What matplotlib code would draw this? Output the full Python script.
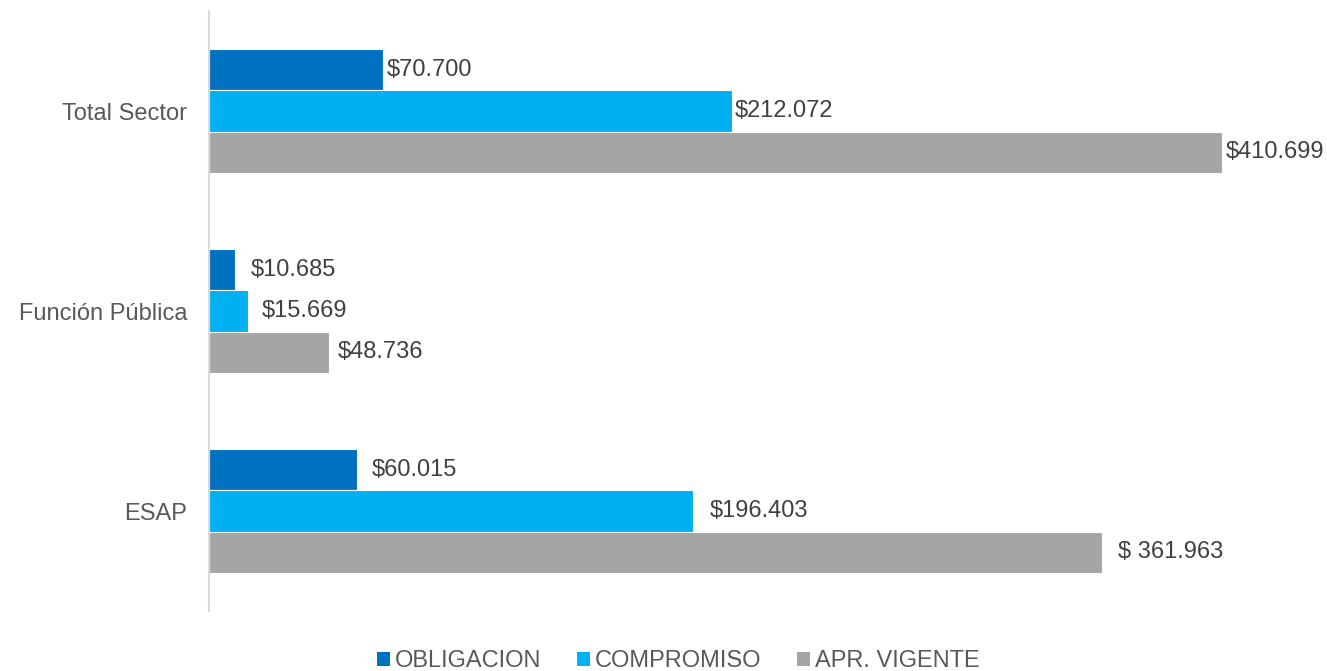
import matplotlib
matplotlib.use("Agg")
import matplotlib.pyplot as plt
from matplotlib.patches import Patch
import numpy as np

plt.rcParams['font.family'] = ['Liberation Sans', 'DejaVu Sans']

categories = ["Total Sector", "Función Pública", "ESAP"]
series_names = ["OBLIGACION", "COMPROMISO", "APR. VIGENTE"]
obligacion = [70.700, 10.685, 60.015]
compromiso = [212.072, 15.669, 196.403]
apr_vigente = [410.699, 48.736, 361.963]
labels_obligacion = ["$70.700", "$10.685", "$60.015"]
labels_compromiso = ["$212.072", "$15.669", "$196.403"]
labels_apr = ["$410.699", "$48.736", "$ 361.963"]

colors = ["#0070C0", "#00B0F0", "#A5A5A5"]
# label offsets in pixels per series per category
label_gap_px = [[3, 15, 15], [3, 14, 16], [4, 9, 16]]

W, H = 1327, 671
fig = plt.figure(figsize=(W / 100, H / 100), dpi=100)
left, right, top, bottom = 209, 1300, 11, 611
ax = fig.add_axes([left / W, (H - bottom) / H, (right - left) / W, (bottom - top) / H])

px_per_unit = (1222 - 209) / 410.699
ax.set_xlim(0, (right - left) / px_per_unit)
ax.set_ylim(-0.5, 2.5)

n = len(categories)
centers = np.arange(n)[::-1]  # Total Sector on top
bh = 0.2075
series = [obligacion, compromiso, apr_vigente]
labels = [labels_obligacion, labels_compromiso, labels_apr]
for si, (vals, labs, col) in enumerate(zip(series, labels, colors)):
    ys = centers + bh * (1 - si)
    bars = ax.barh(ys, vals, height=bh, color=col, edgecolor="white", linewidth=0.8,
                   label=series_names[si])
    for ci, (y, v, lab) in enumerate(zip(ys, vals, labs)):
        ax.annotate(lab, xy=(v, y), xytext=(label_gap_px[si][ci] * 0.72, 0),
                    textcoords="offset points", ha="left", va="center",
                    fontsize=17, color="#404040")

ax.set_yticks(centers)
ax.set_yticklabels(categories, fontsize=17, color="#595959")
ax.tick_params(axis="y", length=0, pad=15.5)
ax.set_xticks([])
for s in ["top", "right", "bottom"]:
    ax.spines[s].set_visible(False)
ax.spines["left"].set_color("#D9D9D9")
ax.spines["left"].set_linewidth(1.5)

handles = [Patch(facecolor=c, edgecolor="none") for c in colors]
fig.legend(handles, series_names, loc="center", bbox_to_anchor=(678.5 / W, (H - 661) / H),
           ncol=3, frameon=False, fontsize=17, labelcolor="#595959",
           handlelength=0.55, handleheight=0.55, handletextpad=0.22,
           columnspacing=1.5, borderpad=0, borderaxespad=0)

fig.savefig("out.png", dpi=100)
